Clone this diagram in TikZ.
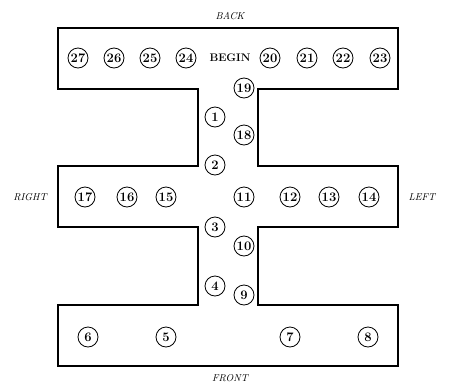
\documentclass[tikz,border=0pt]{standalone}
\usepackage{tikz}
\tikzset{
  seat/.style={circle, draw, line width=0.8pt, minimum size=20pt, inner sep=0pt,
    font=\fontsize{13}{15}\selectfont\bfseries},
  side/.style={font=\fontsize{10}{12}\selectfont\itshape}
}
\begin{document}
\begin{tikzpicture}[x=1pt,y=-1pt]
  \useasboundingbox (0,0) rectangle (450,386);
  % floor outline
  \draw[line width=1.2pt] (58,28) -- (398,28) -- (398,89) -- (258,89) -- (258,166)
    -- (398,166) -- (398,227) -- (258,227) -- (258,305) -- (398,305) -- (398,366)
    -- (58,366) -- (58,305) -- (198,305) -- (198,227) -- (58,227) -- (58,166)
    -- (198,166) -- (198,89) -- (58,89) -- cycle;

  \node[side] (back) at (230,16) {BACK};
  \node[side] (front) at (230,378) {FRONT};
  \node[side] (right) at (30,197) {RIGHT};
  \node[side] (left) at (422,197) {LEFT};

  \node[font=\fontsize{11}{13}\selectfont\bfseries] (begin) at (230,58) {BEGIN};

  % top row
  \foreach \n/\x in {27/78, 26/114, 25/150, 24/186, 20/270, 21/307, 22/343, 23/380}
    \node[seat] (s\n) at (\x,58) {\n};
  % corridor
  \foreach \n/\x/\y in {19/244/88, 1/215/117, 18/244/135, 2/215/165,
                        3/215/227, 10/244/246, 4/215/286, 9/244/295}
    \node[seat] (s\n) at (\x,\y) {\n};
  % middle row
  \foreach \n/\x in {17/85, 16/127, 15/166, 11/244, 12/290, 13/329, 14/369}
    \node[seat] (s\n) at (\x,197) {\n};
  % bottom row
  \foreach \n/\x in {6/88, 5/166, 7/290, 8/368}
    \node[seat] (s\n) at (\x,337) {\n};
\end{tikzpicture}
\end{document}
